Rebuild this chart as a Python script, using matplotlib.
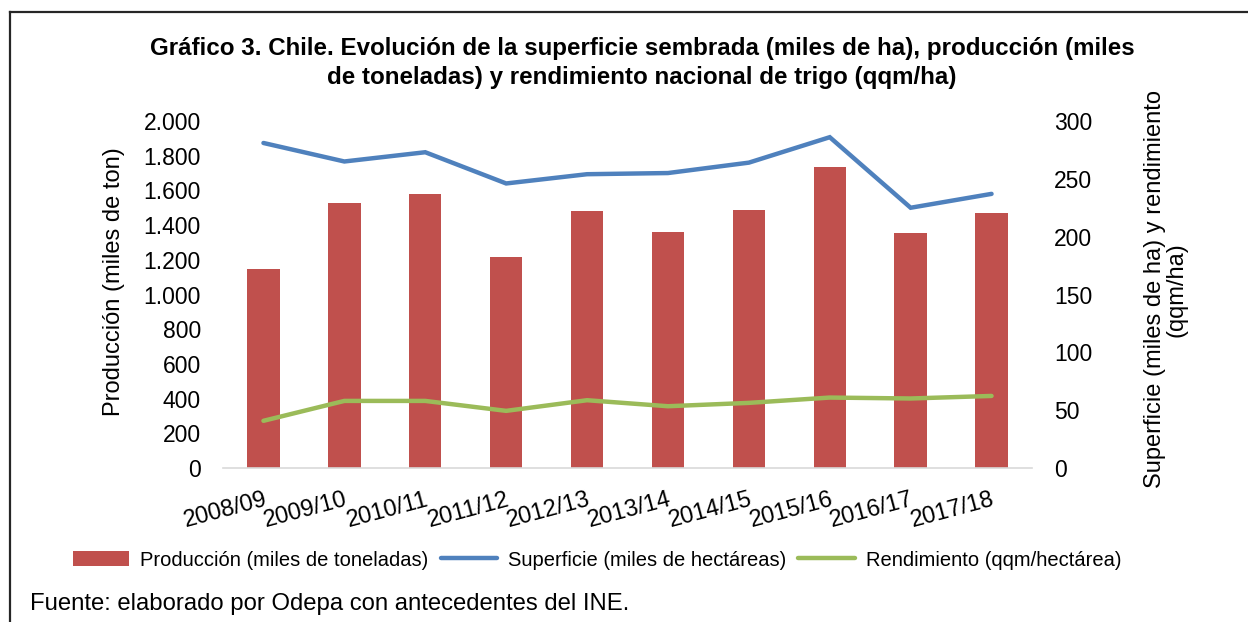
import matplotlib

matplotlib.use("Agg")
import matplotlib.pyplot as plt
from matplotlib.lines import Line2D

plt.rcParams["font.family"] = ["Liberation Sans", "DejaVu Sans"]

# Data
seasons = ["2008/09", "2009/10", "2010/11", "2011/12", "2012/13",
           "2013/14", "2014/15", "2015/16", "2016/17", "2017/18"]
produccion = [1147, 1527, 1579, 1216, 1479, 1362, 1489, 1737, 1353, 1471]
superficie = [281, 265, 273, 246, 254, 255, 264, 286, 225, 237]
rendimiento = [40.8, 58.0, 58.0, 49.4, 58.6, 53.4, 56.3, 60.9, 60.1, 62.3]

left_ticks = [0, 200, 400, 600, 800, 1000, 1200, 1400, 1600, 1800, 2000]
right_ticks = [0, 50, 100, 150, 200, 250, 300]

RED = "#C0504D"
BLUE = "#4F81BD"
GREEN = "#9BBB59"

W, H = 1248, 622
fig = plt.figure(figsize=(W / 100, H / 100), dpi=100)
ax = fig.add_axes([223 / W, 1 - 468 / H, (1032 - 223) / W, (468 - 121) / H])
ax2 = ax.twinx()

x = list(range(len(seasons)))
bars = ax.bar(x, produccion, width=0.4, color=RED, zorder=2,
              label="Producción (miles de toneladas)")
l1, = ax2.plot(x, superficie, color=BLUE, lw=3.2, solid_capstyle="round",
               solid_joinstyle="miter", label="Superficie (miles de hectáreas)")
l2, = ax2.plot(x, rendimiento, color=GREEN, lw=3.2, solid_capstyle="round",
               label="Rendimiento (qqm/hectárea)")

ax.set_xlim(-0.5, len(seasons) - 0.5)
ax.set_ylim(0, 2000)
ax2.set_ylim(0, 300)

ax.set_yticks(left_ticks)
ax.set_yticklabels([f"{v:,}".replace(",", ".") for v in left_ticks])
ax2.set_yticks(right_ticks)
ax2.set_yticklabels([str(v) for v in right_ticks])

ax.set_xticks(x)
ax.set_xticklabels(seasons, rotation=15, ha="right", va="top",
                   rotation_mode="anchor", fontsize=17)
ax.tick_params(axis="x", length=0, pad=15)
ax.tick_params(axis="y", length=0, pad=16, labelsize=16.5)
ax2.tick_params(axis="y", length=0, pad=16, labelsize=16.5)

for a in (ax, ax2):
    for side in ("top", "left", "right", "bottom"):
        a.spines[side].set_visible(False)
ax.spines["bottom"].set_visible(True)
ax.spines["bottom"].set_color("#D9D9D9")
ax.spines["bottom"].set_linewidth(1.2)

ax.set_ylabel("Producción (miles de ton)", fontsize=17, va="center")
ax.yaxis.set_label_coords((114 - 223) / 809, 0.536)
ax2.set_ylabel("Superficie (miles de ha) y rendimiento\n(qqm/ha)", fontsize=17,
               va="center", rotation=90, linespacing=0.95)
ax2.yaxis.set_label_coords((1166 - 223) / 809, 0.515)

fig.text(642 / W, 1 - 63 / H,
         "Gráfico 3. Chile. Evolución de la superficie sembrada (miles de ha), producción (miles\n"
         "de toneladas) y rendimiento nacional de trigo (qqm/ha)",
         ha="center", va="center", fontsize=17.4, fontweight="bold", linespacing=1.32)

fig.legend(handles=[bars, l1, l2], loc="center", bbox_to_anchor=(597 / W, 1 - 560 / H),
           ncol=3, frameon=False, fontsize=14.5, handlelength=2.8, handletextpad=0.55,
           columnspacing=0.6, borderaxespad=0)

fig.text(30 / W, 1 - 604 / H, "Fuente: elaborado por Odepa con antecedentes del INE.",
         ha="left", va="center", fontsize=17.2)

# outer frame: top and left edges only
fig.add_artist(Line2D([10 / W, 1], [1 - 12 / H, 1 - 12 / H], color="#262626", lw=1.6,
                      transform=fig.transFigure))
fig.add_artist(Line2D([10 / W, 10 / W], [0, 1 - 12 / H], color="#262626", lw=1.6,
                      transform=fig.transFigure))

fig.savefig("out.png", dpi=100)
